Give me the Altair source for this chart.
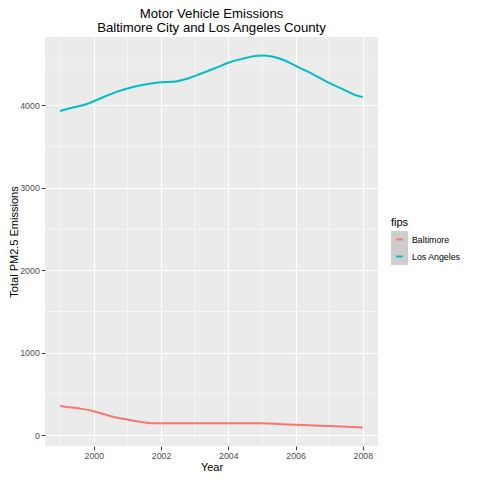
import altair as alt
import pandas as pd

# Smoothed series
la_years = [1999, 1999.4, 1999.8, 2000, 2000.3, 2000.6, 2001, 2001.4, 2001.8, 2002,
            2002.35, 2002.8, 2003.2, 2003.6, 2004, 2004.45, 2004.75, 2005, 2005.3,
            2005.65, 2006, 2006.35, 2006.7, 2007, 2007.4, 2007.8, 2008]
la_vals = [3930, 3975, 4015, 4048, 4100, 4150, 4202, 4242, 4270, 4279,
           4284, 4325, 4385, 4448, 4515, 4566, 4594, 4602, 4590,
           4548, 4478, 4410, 4335, 4270, 4196, 4120, 4098]

bal_years = [1999, 1999.2, 1999.6, 2000, 2000.3, 2000.6, 2001, 2001.4, 2001.7, 2002,
             2003, 2004, 2005, 2005.6, 2006.4, 2007.2, 2008]
bal_vals = [355, 344, 323, 291, 256, 222, 190, 162, 147, 145,
            145, 146, 146, 134, 121, 109, 95]

series_names = ["Baltimore", "Los Angeles"]
series_colors = ["#F8766D", "#00BFC4"]

x_major = [2000, 2002, 2004, 2006, 2008]
x_minor = [1999, 2001, 2003, 2005, 2007]
y_major = [0, 1000, 2000, 3000, 4000]
y_minor = [500, 1500, 2500, 3500, 4500]

df = pd.concat([
    pd.DataFrame({"year": bal_years, "value": bal_vals, "fips": "Baltimore"}),
    pd.DataFrame({"year": la_years, "value": la_vals, "fips": "Los Angeles"}),
])

FONT = "Liberation Sans"

xenc = alt.X("year:Q",
             scale=alt.Scale(domain=[1998.55, 2008.45], nice=False, zero=False),
             axis=alt.Axis(values=x_major, format="d", title="Year",
                           tickColor="#333333", tickSize=3.7, tickWidth=1,
                           labelColor="#4D4D4D", labelFontSize=8.8, labelPadding=2,
                           titleFontSize=11, titleColor="black", titleFontWeight="normal",
                           titlePadding=1, gridColor="white", gridWidth=1.1,
                           domain=False, labelFont=FONT, titleFont=FONT))
yenc = alt.Y("value:Q",
             scale=alt.Scale(domain=[-130, 4827], nice=False, zero=False),
             axis=alt.Axis(values=y_major, format="d", title="Total PM2.5 Emissions",
                           tickColor="#333333", tickSize=3.7, tickWidth=1,
                           labelColor="#4D4D4D", labelFontSize=8.8, labelPadding=2,
                           titleFontSize=11, titleColor="black", titleFontWeight="normal",
                           titlePadding=0, gridColor="white", gridWidth=1.1,
                           domain=False, labelFont=FONT, titleFont=FONT))

minor_x = alt.Chart(pd.DataFrame({"year": x_minor})).mark_rule(
    color="white", strokeWidth=0.55).encode(x=xenc)
minor_y = alt.Chart(pd.DataFrame({"value": y_minor})).mark_rule(
    color="white", strokeWidth=0.55).encode(y=yenc)

common_legend = dict(orient="none", legendX=346, legendY=180,
                     titleFontSize=11, titleFont=FONT, titleColor="black",
                     titleFontWeight="normal", titlePadding=3,
                     labelFontSize=8.8, labelFont=FONT, labelColor="black",
                     labelOffset=4, rowPadding=0, padding=0, clipHeight=17)

keys = alt.Chart(df).transform_calculate(key="datum.fips").mark_point(
    shape="square", filled=True, opacity=0).encode(
    x=xenc, y=yenc,
    fill=alt.Fill("key:N",
                  scale=alt.Scale(range=["#CDCDCD", "#CDCDCD"]),
                  legend=alt.Legend(title="fips", symbolType="square", symbolSize=225,
                                    symbolStrokeWidth=2, symbolStrokeColor="#CDCDCD",
                                    symbolOpacity=1, zindex=0, **common_legend)))

lines = alt.Chart(df).mark_line(strokeWidth=2, interpolate="monotone").encode(
    x=xenc, y=yenc,
    color=alt.Color("fips:N",
                    scale=alt.Scale(domain=series_names, range=series_colors),
                    legend=alt.Legend(
                        title=" ",
                        symbolType="M-0.433,0H0.433M-0.5,-0.5L-0.5,-0.5M0.5,0.5L0.5,0.5",
                        symbolSize=225, symbolStrokeWidth=2,
                        labelExpr="''", zindex=1, **common_legend)))

chart = alt.layer(minor_x, minor_y, keys, lines).properties(
    width=333, height=409,
    title=alt.TitleParams(text=["Motor Vehicle Emissions",
                                "Baltimore City and Los Angeles County"],
                          fontSize=13.2, font=FONT, fontWeight="normal", color="black",
                          anchor="middle", frame="group", offset=2, lineHeight=13.3),
    autosize=alt.AutoSizeParams(type="none"),
    padding={"left": 37, "top": 29, "right": 94, "bottom": 26},
).configure(font=FONT, view=alt.ViewConfig(fill="#EBEBEB", stroke=None))

chart.save("out.html", embed_options={"renderer": "svg", "actions": False})
